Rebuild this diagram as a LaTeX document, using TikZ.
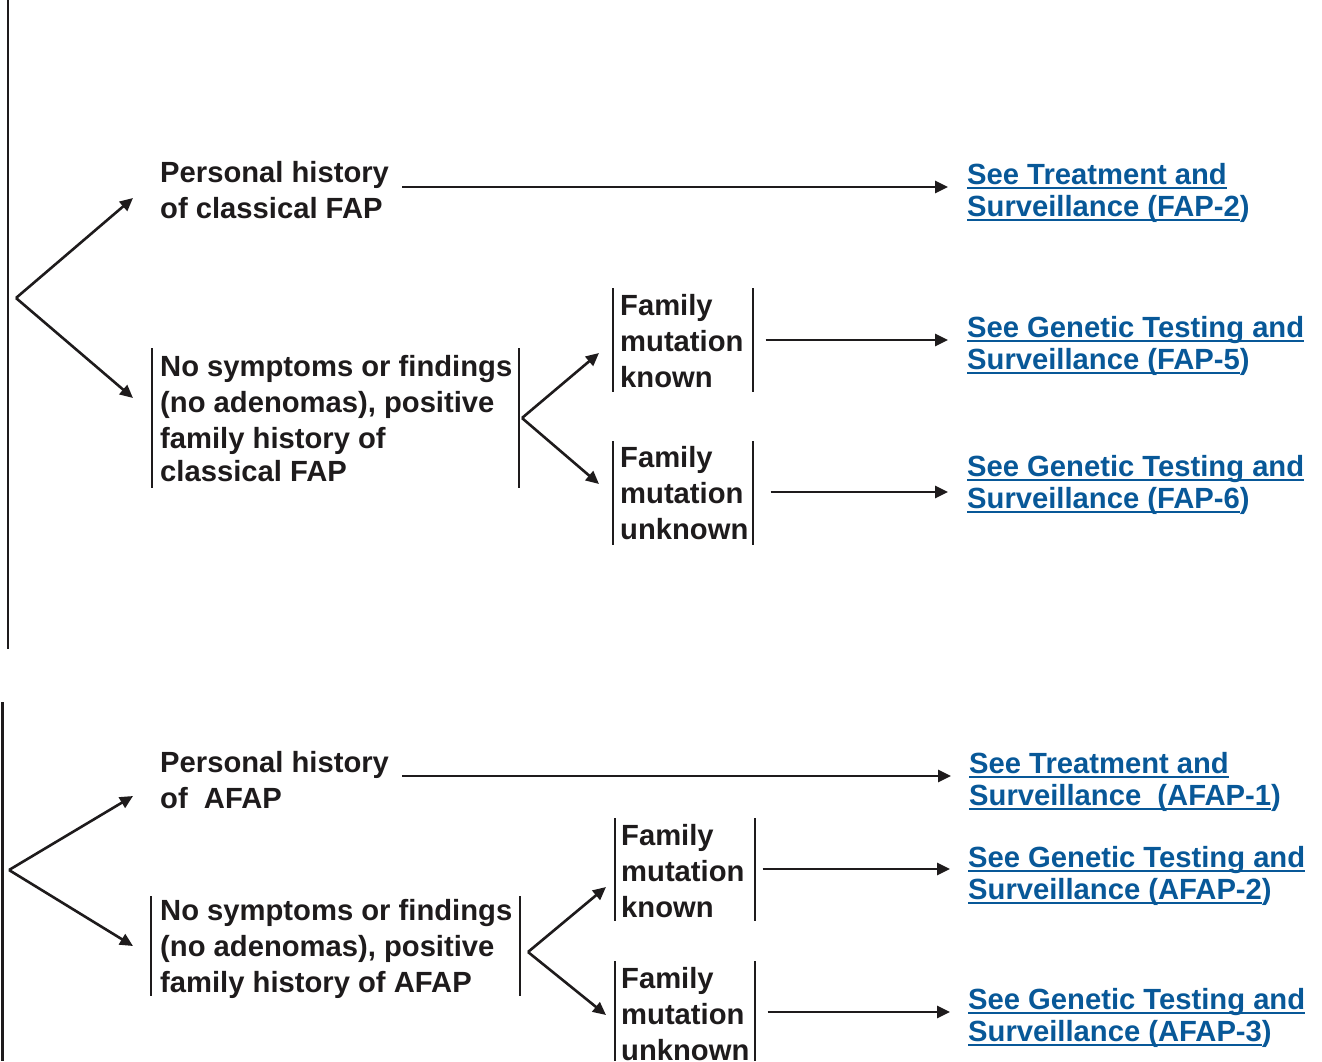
\documentclass[tikz,border=0pt]{standalone}
\usepackage{fontspec}
\setmainfont{Liberation Sans}
\usetikzlibrary{arrows.meta}

\definecolor{ink}{RGB}{30,27,28}
\definecolor{linkblue}{RGB}{8,88,152}

% fixed height for the first line, so that north west sits 24pt above its baseline
\newcommand\firstline{\rule{0pt}{24pt}}
% link-style underline drawn just below the baseline
\newcommand\linkul[1]{\setbox0\hbox{#1}\rlap{\rule[-5pt]{\wd0}{2.5pt}}\box0}

\tikzset{
  txt/.style={font=\fontsize{29.2}{36}\selectfont\bfseries, text=ink, align=left,
              inner sep=0pt, anchor=north west},
  link/.style={txt, text=linkblue, font=\fontsize{29.2}{32}\selectfont\bfseries},
  arr/.style={draw=ink, line width=2.6pt, -{Triangle[length=13pt,width=12pt]}},
  bar/.style={draw=ink, line width=2.6pt}
}

\begin{document}
\begin{tikzpicture}[x=1pt, y=-1pt]
\useasboundingbox (0,0) rectangle (1322,1061);

% ---------------- classical FAP ----------------
\draw[bar] (8,0) -- (8,649);

\node[txt] (p1) at (160,158) {\firstline Personal history\\of classical FAP};
\node[txt] (n1) at (160,352) {\firstline No symptoms or findings\\(no adenomas), positive\\family history of\\[-3pt]classical FAP};
\node[txt] (f1) at (620,291) {\firstline Family\\mutation\\known};
\node[txt] (f2) at (620,443) {\firstline Family\\mutation\\unknown};

\node[link] (b1) at (967,160) {\firstline\linkul{See Treatment and}\\\linkul{Surveillance (FAP-2})};
\node[link] (b2) at (967,313) {\firstline\linkul{See Genetic Testing and}\\\linkul{Surveillance (FAP-5})};
\node[link] (b3) at (967,452) {\firstline\linkul{See Genetic Testing and}\\\linkul{Surveillance (FAP-6})};

\draw[bar] (152,348) -- (152,488);
\draw[bar] (519,348) -- (519,488);
\draw[bar] (613,288) -- (613,392);
\draw[bar] (753,288) -- (753,392);
\draw[bar] (613,441) -- (613,545);
\draw[bar] (753,441) -- (753,545);

\coordinate (r1) at (16,298);
\coordinate (p1in) at (133,198);
\coordinate (n1in) at (133,398);
\draw[arr] (r1) -- (p1in);
\draw[arr] (r1) -- (n1in);

\coordinate (s1) at (522,418);
\coordinate (f1in) at (599,353);
\coordinate (f2in) at (599,484);
\draw[arr] (s1) -- (f1in);
\draw[arr] (s1) -- (f2in);

\coordinate (h1) at (0,187);
\coordinate (h2) at (0,340);
\coordinate (h3) at (0,492);
\draw[arr] ([xshift=13pt]p1.east |- h1) -- ([xshift=-19pt]b1.west |- h1);
\draw[arr] ([xshift=22pt]f1.east |- h2) -- ([xshift=-19pt]b2.west |- h2);
\draw[arr] ([xshift=22pt]f2.east |- h3) -- ([xshift=-19pt]b3.west |- h3);

% ---------------- AFAP ----------------
\draw[bar] (2.5,702) -- (2.5,1061);

\node[txt] (p2) at (160,748) {\firstline Personal history\\of~~AFAP};
\node[txt] (n2) at (160,896) {\firstline No symptoms or findings\\(no adenomas), positive\\family history of AFAP};
\node[txt] (f3) at (621,821) {\firstline Family\\mutation\\known};
\node[txt] (f4) at (621,964) {\firstline Family\\mutation\\unknown};

\node[link] (b4) at (969,749) {\firstline\linkul{See Treatment and}\\\linkul{Surveillance~~(AFAP-1})};
\node[link] (b5) at (968,843) {\firstline\linkul{See Genetic Testing and}\\\linkul{Surveillance (AFAP-2})};
\node[link] (b6) at (968,985) {\firstline\linkul{See Genetic Testing and}\\\linkul{Surveillance (AFAP-3})};

\draw[bar] (151,896) -- (151,996);
\draw[bar] (520,896) -- (520,996);
\draw[bar] (615,818) -- (615,921);
\draw[bar] (755,818) -- (755,921);
\draw[bar] (615,961) -- (615,1061);
\draw[bar] (755,961) -- (755,1061);

\coordinate (r2) at (9,870);
\coordinate (p2in) at (133,796);
\coordinate (n2in) at (133,946);
\draw[arr] (r2) -- (p2in);
\draw[arr] (r2) -- (n2in);

\coordinate (s2) at (528,952);
\coordinate (f3in) at (606,887);
\coordinate (f4in) at (606,1015);
\draw[arr] (s2) -- (f3in);
\draw[arr] (s2) -- (f4in);

\coordinate (h4) at (0,776);
\coordinate (h5) at (0,869);
\coordinate (h6) at (0,1012);
\draw[arr] ([xshift=13pt]p2.east |- h4) -- ([xshift=-18pt]b4.west |- h4);
\draw[arr] ([xshift=18pt]f3.east |- h5) -- ([xshift=-18pt]b5.west |- h5);
\draw[arr] ([xshift=18pt]f4.east |- h6) -- ([xshift=-18pt]b6.west |- h6);
\end{tikzpicture}
\end{document}
